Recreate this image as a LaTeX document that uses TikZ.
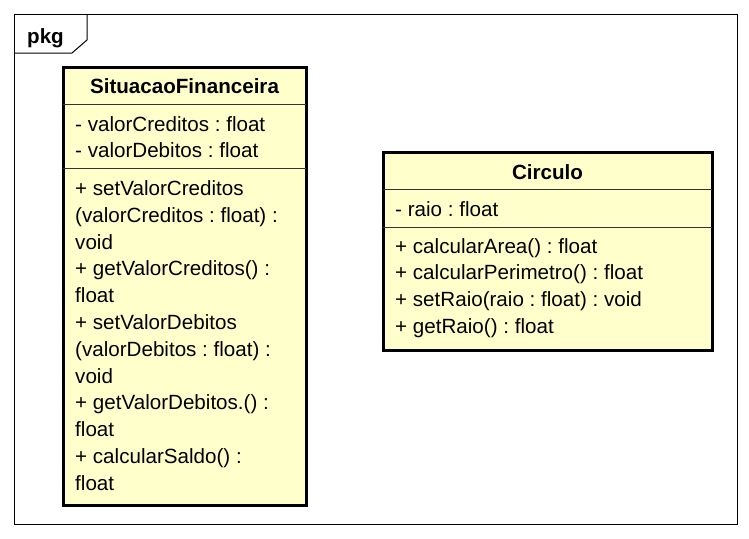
\documentclass[tikz,border=0pt]{standalone}
\usepackage{fontspec}
\setmainfont{Liberation Sans}
\usepackage{tikz}
\definecolor{classfill}{RGB}{255,255,204}
\frenchspacing

\begin{document}
\begin{tikzpicture}[x=1pt,y=-1pt,
  member/.style={anchor=base west,inner sep=0pt,font=\fontsize{20.6}{24}\selectfont},
  title/.style={anchor=base,inner sep=0pt,font=\fontsize{20.6}{24}\selectfont\bfseries},
  classbox/.style={draw,line width=3pt,fill=classfill},
  divider/.style={line width=1pt,black!80}]
\useasboundingbox (0,0) rectangle (749,538);
%frame
\draw [line width=1pt] (14,14) rectangle (737,524);
%tab
\draw [line width=1pt] (14,53) -- (72,53) -- (87,40) -- (87,14);
\node [title, anchor=base west] (pkg) at (27,43) {pkg};
%class SituacaoFinanceira
\draw [classbox] (63,67) rectangle (306,505);
\draw [divider] (63,104) -- (306,104);
\draw [divider] (63,168) -- (306,168);
\node [title] (sfname) at (184.5,93) {SituacaoFinanceira};
\node [member] (sfa0) at (75,131) {- valorCreditos : float};
\node [member] (sfa1) at (75,157.5) {- valorDebitos : float};
\foreach \txt [count=\i from 0] in {{+ setValorCreditos},{(valorCreditos : float) :},{void},
  {+ getValorCreditos() :},{float},{+ setValorDebitos},{(valorDebitos : float) :},{void},
  {+ getValorDebitos.() :},{float},{+ calcularSaldo() :},{float}}
  \node [member] (sfm\i) at (75,195.5+26.8*\i) {\txt};
%class Circulo
\draw [classbox] (383,152) rectangle (712,350);
\draw [divider] (383,189) -- (712,189);
\draw [divider] (383,227) -- (712,227);
\node [title] (ciname) at (547.5,179) {Circulo};
\node [member] (cia0) at (395,216) {- raio : float};
\foreach \txt [count=\i from 0] in {{+ calcularArea() : float},{+ calcularPerimetro() : float},
  {+ setRaio(raio : float) : void},{+ getRaio() : float}}
  \node [member] (cim\i) at (395,253+26.8*\i) {\txt};
\end{tikzpicture}
\end{document}
